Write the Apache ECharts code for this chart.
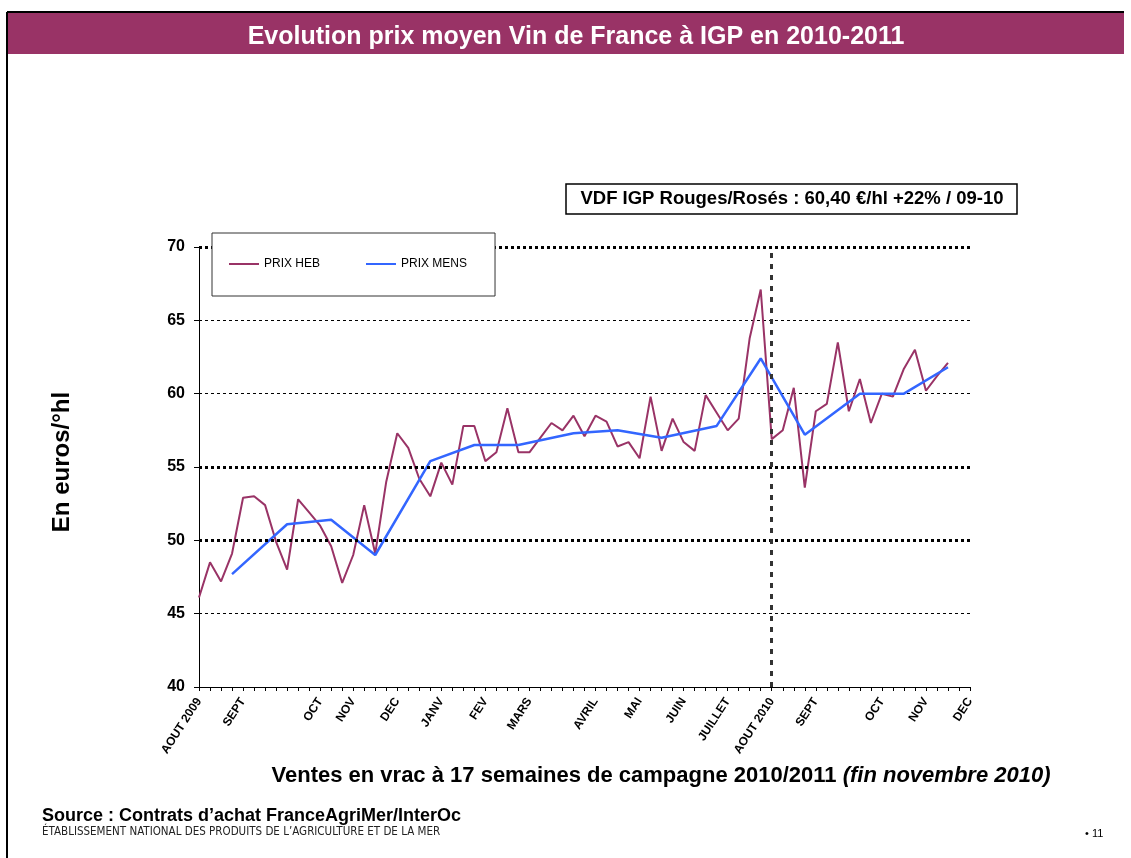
<!DOCTYPE html>
<html>
<head>
<meta charset="utf-8">
<script src="https://cdn.jsdelivr.net/npm/echarts@6/dist/echarts.min.js"></script>
<style>
html,body{margin:0;padding:0;background:#fff;}
#chart{width:1131px;height:858px;}
</style>
</head>
<body>
<div id="chart"></div>
<script>
// ---- Data (weekly campaign, Aug 2009 -> Dec 2010) ----
const weekCount = 71;
const monthLabels = ['AOUT 2009','SEPT','OCT','NOV','DEC','JANV','FEV','MARS','AVRIL','MAI','JUIN','JUILLET','AOUT 2010','SEPT','OCT','NOV','DEC'];
const monthWeekIdx = [0,4,11,14,18,22,26,30,36,40,44,48,52,56,62,66,70];

const prixHeb = [
  46.1,48.5,47.2,49.1,52.9,53.0,52.4,49.9,48.0,52.8,
  51.9,51.0,49.6,47.1,49.0,52.4,49.1,54.0,57.3,56.3,
  54.2,53.0,55.3,53.8,57.8,57.8,55.4,56.0,59.0,56.0,
  56.0,57.0,58.0,57.5,58.5,57.1,58.5,58.1,56.4,56.7,
  55.6,59.8,56.1,58.3,56.7,56.1,59.9,58.7,57.5,58.3,
  63.8,67.1,56.9,57.5,60.4,53.6,58.8,59.3,63.5,58.8,
  61.0,58.0,60.0,59.8,61.7,63.0,60.2,61.2,62.1
];
// monthly price (points placed at the weeks where they were recorded)
const mensWeekIdx = [3,8,12,16,21,25,29,34,38,42,47,51,55,60,64,68];
const prixMens    = [47.7,51.1,51.4,49.0,55.4,56.5,56.5,57.3,57.5,57.0,57.8,62.4,57.2,60.0,60.0,61.8];

const yTicks = [40,45,50,55,60,65,70];
const boldLevels = [50,55,70];
const campaignStartIdx = 52;

// ---- build arrays for the library ----
const categories = new Array(weekCount).fill('');
monthWeekIdx.forEach((w,i)=>{ categories[w] = monthLabels[i]; });
const mensSeries = new Array(weekCount).fill(null);
mensWeekIdx.forEach((w,i)=>{ mensSeries[w] = prixMens[i]; });

const FONT = '"Liberation Sans", Arial, sans-serif';
const chart = echarts.init(document.getElementById('chart'));

const markData = boldLevels.map(v => ({
  yAxis: v,
  lineStyle: {color:'#000', width:3, type:[3,3]}
}));
markData.push({
  xAxis: campaignStartIdx,
  lineStyle: {color:'#333', width:3, type:[5,6]}
});

chart.setOption({
  animation: false,
  textStyle: {fontFamily: FONT},
  grid: {left:199, top:247, width:771, height:440, containLabel:false},
  xAxis: {
    type:'category',
    data: categories,
    boundaryGap:false,
    axisLine:{lineStyle:{color:'#000', width:1}},
    axisTick:{show:true, interval:0, length:4, lineStyle:{color:'#000'}},
    axisLabel:{interval:0, rotate:57, margin:12, color:'#000', fontWeight:'bold', fontSize:12, fontFamily:FONT},
    splitLine:{show:false}
  },
  yAxis: {
    type:'value',
    min: yTicks[0], max: yTicks[yTicks.length-1], interval:5,
    axisLine:{show:true, lineStyle:{color:'#000', width:1}},
    axisTick:{show:true, length:5, lineStyle:{color:'#000'}},
    axisLabel:{color:'#000', fontWeight:'bold', fontSize:16, margin:14, fontFamily:FONT},
    splitLine:{show:true, lineStyle:{color:'#000', width:1, type:[3,3]}}
  },
  legend: {
    data:['PRIX HEB','PRIX MENS'],
    left:212, top:233,
    orient:'horizontal',
    padding:[25,28,26,17],
    itemGap:46,
    itemWidth:30, itemHeight:2,
    icon:'rect',
    backgroundColor:'#fff',
    borderColor:'#333', borderWidth:1,
    textStyle:{fontSize:12, color:'#000', fontFamily:FONT},
    z: 10
  },
  series: [
    {
      name:'refs', type:'line', data:[], z:1, silent:true,
      markLine:{symbol:['none','none'], silent:true, label:{show:false}, data: markData}
    },
    {
      name:'PRIX HEB', type:'line', data: prixHeb, z:3,
      showSymbol:false, symbol:'none',
      lineStyle:{color:'#993366', width:2},
      itemStyle:{color:'#993366'}
    },
    {
      name:'PRIX MENS', type:'line', data: mensSeries, z:4,
      connectNulls:true, showSymbol:false, symbol:'none',
      lineStyle:{color:'#3366FF', width:2.5},
      itemStyle:{color:'#3366FF'}
    }
  ],
  graphic: [
    {type:'rect', shape:{x:8, y:13, width:1116, height:41}, style:{fill:'#993366'}, z:0},
    {type:'line', shape:{x1:7, y1:12, x2:1124, y2:12}, style:{stroke:'#000', lineWidth:2}},
    {type:'line', shape:{x1:7, y1:12, x2:7, y2:858}, style:{stroke:'#000', lineWidth:2}},
    {type:'text', x:576, y:37, style:{text:'Evolution prix moyen Vin de France à IGP en 2010-2011', fill:'#fff', font:'bold 25px '+FONT, align:'center', verticalAlign:'middle'}},
    {type:'rect', shape:{x:566, y:184, width:451, height:30}, style:{fill:'#fff', stroke:'#000', lineWidth:1.5}},
    {type:'text', x:792, y:199, style:{text:'VDF IGP Rouges/Rosés : 60,40 €/hl +22% / 09-10', fill:'#000', font:'bold 18.5px '+FONT, align:'center', verticalAlign:'middle'}},
    {type:'text', x:62, y:462, rotation:Math.PI/2, style:{text:'En euros/°hl', fill:'#000', font:'bold 24px '+FONT, align:'center', verticalAlign:'middle'}},
    {type:'text', x:661, y:776, style:{
      text:'{a|Ventes en vrac à 17 semaines de campagne 2010/2011 }{b|(fin novembre 2010)}',
      align:'center', verticalAlign:'middle',
      rich:{
        a:{font:'bold 22px '+FONT, fill:'#000'},
        b:{font:'italic bold 22px '+FONT, fill:'#000'}
      }
    }},
    {type:'text', x:42, y:816, style:{text:'Source : Contrats d\u2019achat FranceAgriMer/InterOc', fill:'#000', font:'bold 18px '+FONT, verticalAlign:'middle'}},
    {type:'text', x:42, y:832, style:{text:'ÉTABLISSEMENT NATIONAL DES PRODUITS DE L\u2019AGRICULTURE ET DE LA MER', fill:'#222', font:'11.5px "Liberation Sans Narrow", "DejaVu Sans Condensed", sans-serif', verticalAlign:'middle'}},
    {type:'text', x:1085, y:834, style:{text:'• 11', fill:'#000', font:'11px '+FONT, verticalAlign:'middle'}}
  ]
});
</script>
</body>
</html>
